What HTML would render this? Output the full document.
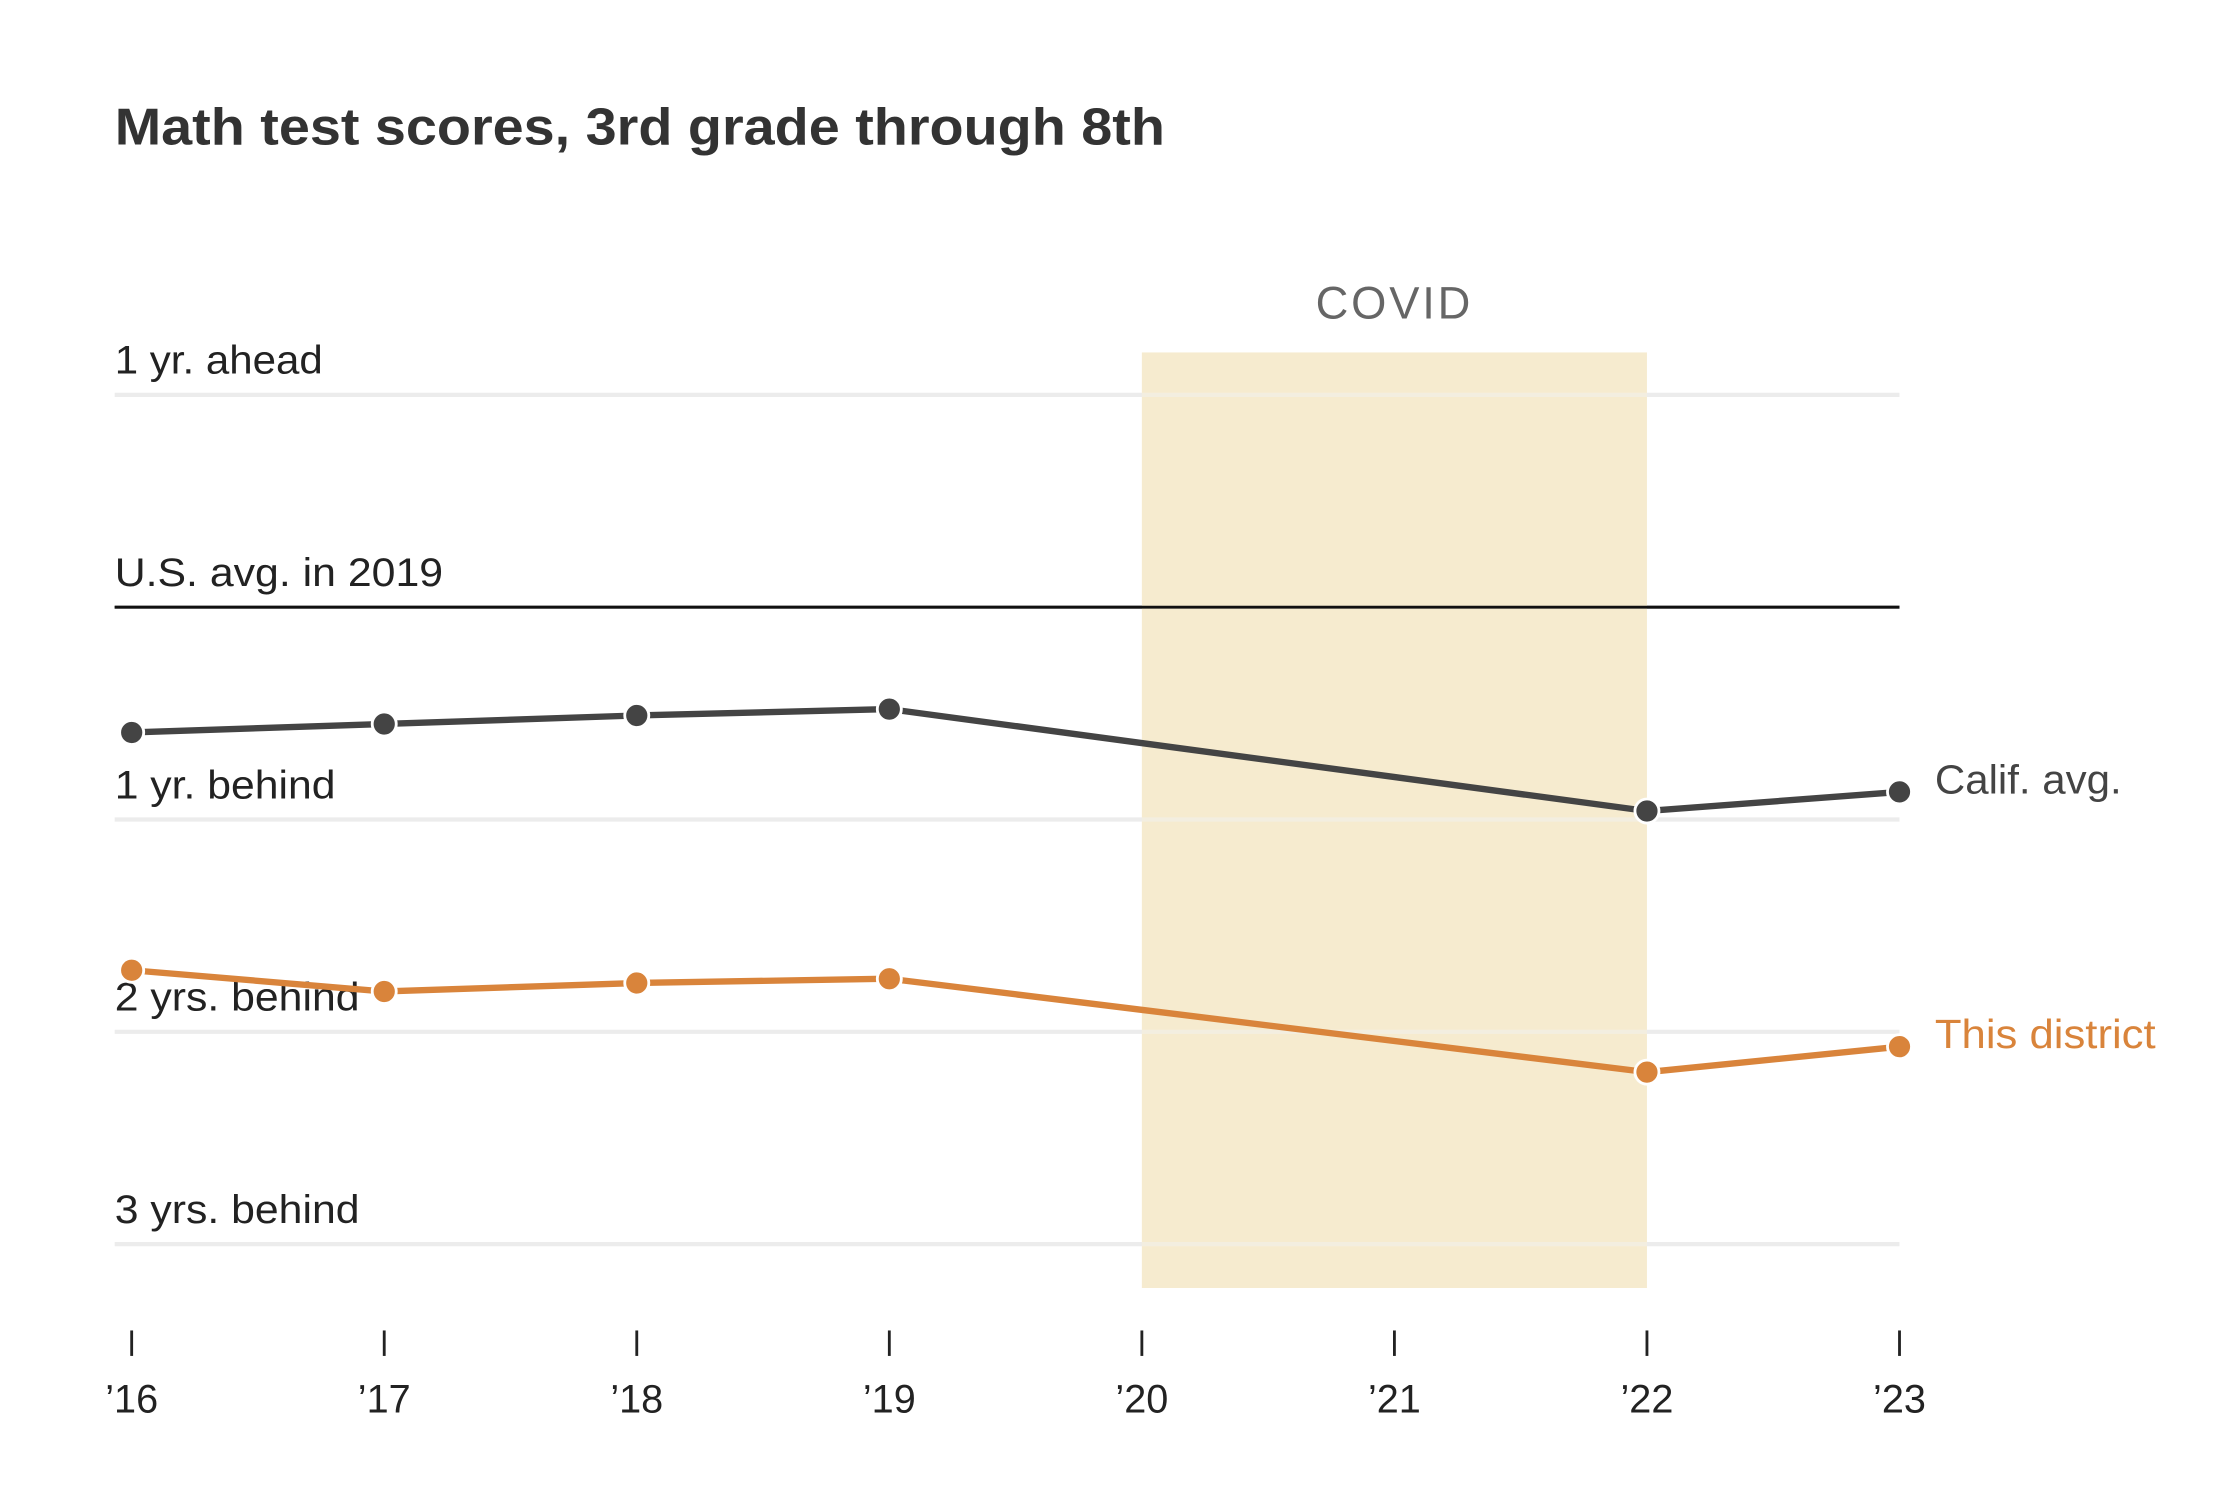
<!DOCTYPE html>
<html><head><meta charset="utf-8"><style>
html,body{margin:0;padding:0;background:#fff;}
svg{display:block;}
text{font-family:"Liberation Sans",sans-serif;}
</style></head><body>
<svg id="chart" width="2218" height="1502" viewBox="0 0 1567 1061.2" xmlns="http://www.w3.org/2000/svg">
<rect width="1567" height="1061.2" fill="#fff"/>
<text x="81" y="102" font-size="37" font-weight="bold" fill="#333" textLength="742" lengthAdjust="spacingAndGlyphs">Math test scores, 3rd grade through 8th</text>
<g id="grid"></g>
<g id="covid"></g>
<g id="series"></g>
<g id="xaxis"></g>
</svg>
<script>
const years = [2016, 2017, 2018, 2019, 2020, 2021, 2022, 2023];
const tickLabels = ["’16", "’17", "’18", "’19", "’20", "’21", "’22", "’23"];
const gridValues = [1, 0, -1, -2, -3];
const gridLabels = ["1 yr. ahead", "U.S. avg. in 2019", "1 yr. behind", "2 yrs. behind", "3 yrs. behind"];
const gridLabelWidths = [147, 232, 156, 173, 173];
const seriesYears = [2016, 2017, 2018, 2019, 2022, 2023];
const califValues = [-0.59, -0.55, -0.51, -0.48, -0.96, -0.87];
const districtValues = [-1.71, -1.81, -1.77, -1.75, -2.19, -2.07];
const covidStart = 2020, covidEnd = 2022;

const NS = "http://www.w3.org/2000/svg";
const xs = y => 93 + (y - 2016) * 178.43;
const ys = v => 429 - v * 150;
function mk(tag, attrs, parent, txt) {
  const e = document.createElementNS(NS, tag);
  for (const k in attrs) e.setAttribute(k, attrs[k]);
  if (txt !== undefined) e.textContent = txt;
  parent.appendChild(e);
  return e;
}
const grid = document.getElementById('grid');
gridValues.forEach((v, i) => {
  const isBase = v === 0;
  const l = mk('line', {x1: 81, x2: 1342, y1: ys(v), y2: ys(v), stroke: isBase ? '#111' : '#ececec', 'stroke-width': isBase ? 2 : 3}, grid);
  
  
  const t = mk('text', {x: 81, y: ys(v) - 15, 'font-size': 28, fill: '#222', textLength: gridLabelWidths[i], lengthAdjust: 'spacingAndGlyphs'}, grid, gridLabels[i]);
  
  
});
const cov = document.getElementById('covid');
const r = mk('rect', {x: xs(covidStart), y: 249, width: xs(covidEnd) - xs(covidStart), height: 661, fill: '#f6ebcf'}, cov);


const ct = mk('text', {x: (xs(covidStart) + xs(covidEnd)) / 2, y: 225, 'font-size': 32, fill: '#666', 'text-anchor': 'middle', 'letter-spacing': 2}, cov, 'COVID');



const us = mk('line', {x1: 81, x2: 1342, y1: ys(0), y2: ys(0), stroke: '#111', 'stroke-width': 2}, cov);


gridValues.filter(v => v !== 0).forEach(v => {
  const l = mk('line', {x1: xs(covidStart), x2: xs(covidEnd), y1: ys(v), y2: ys(v), stroke: '#f1f1f1', 'stroke-width': 3, opacity: 0.5}, cov);
  
  
});

const ser = document.getElementById('series');
function drawSeries(vals, color, name, label, w) {
  const pts = seriesYears.map((y, i) => xs(y) + ',' + ys(vals[i])).join(' ');
  const pl = mk('polyline', {points: pts, fill: 'none', stroke: color, 'stroke-width': 4.5, 'stroke-linejoin': 'round'}, ser);
  
  
  seriesYears.forEach((y, i) => {
    const c = mk('circle', {cx: xs(y), cy: ys(vals[i]), r: 8.5, fill: color, stroke: '#fff', 'stroke-width': 2}, ser);
    
    
  });
  const last = vals.length - 1;
  const t = mk('text', {x: 1367, y: ys(vals[last]) + 1, 'font-size': 29, fill: color, textLength: w, lengthAdjust: 'spacingAndGlyphs'}, ser, label);
  
  
}
drawSeries(califValues, '#444', 'calif-avg', 'Calif. avg.', 132);
drawSeries(districtValues, '#d9843b', 'this-district', 'This district', 156);

const xa = document.getElementById('xaxis');
years.forEach((y, i) => {
  const tk = mk('line', {x1: xs(y), x2: xs(y), y1: 940, y2: 958, stroke: '#222', 'stroke-width': 2}, xa);
  
  
  const t = mk('text', {x: xs(y), y: 998, 'font-size': 28, fill: '#222', 'text-anchor': 'middle'}, xa, tickLabels[i]);
  
  
});
</script>
</body></html>
